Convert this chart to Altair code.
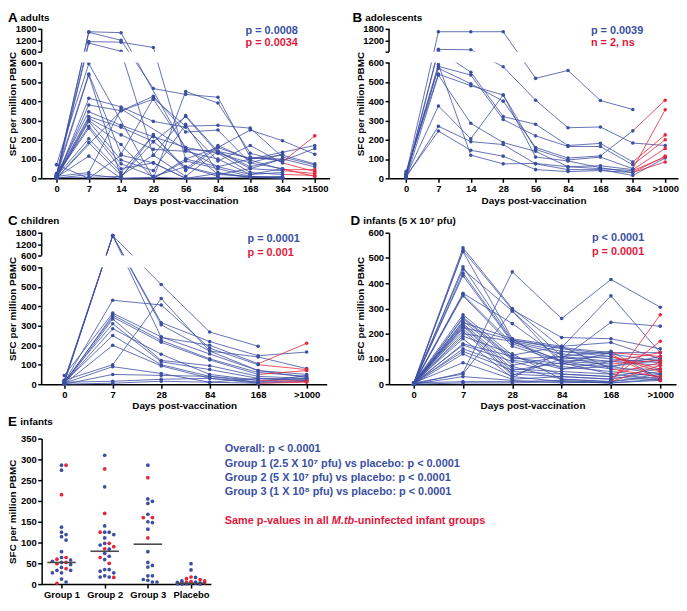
import json
import altair as alt
import numpy as np
import pandas as pd

BLUE = "#3D4FA2"
RED = "#E4253A"
TEXT_BLUE = "#3A50A2"
TEXT_RED = "#E1183D"
MEDIAN_GREY = "#4A4A4A"
FONT = "Liberation Sans"

# ---------------- Panel A: adults ----------------
A_TIMES = ["0", "7", "14", "28", "56", "84", "168", "364", ">1500"]
A_SUBJECTS = [
    [10, 1650, 1600, None, 150, 60, 100, 135, 170],
    [15, 1620, 1200, 465, 435, 420, 110, 90, 155],
    [20, 1130, 1100, 818, 100, 160, 250, 195, 125],
    [5, 1050, 620, 120, 325, 140, 60, 100, 60],
    [70, 594, None, 0, 450, 390, 130, 85, 220],
    [25, 541, 125, 415, 270, 275, 260, 110, 70],
    [10, 535, 5, 225, 50, 170, 95, 45, 45],
    [0, 415, 370, 295, 265, 90, 170, 80, 35],
    [5, 380, 350, 425, 240, 250, 80, 125, None],
    [20, 345, 275, 215, 160, 20, 50, 40, 25],
    [15, 320, 265, 190, 320, 130, 30, 20, 15],
    [10, 310, 225, 150, 140, 100, 20, 50, 10],
    [0, 300, 175, 0, 90, 50, 10, 5, None],
    [5, 295, 95, 40, 280, 30, 5, 10, None],
    [20, 270, 75, 10, 60, 10, None, None, None],
    [15, 260, 50, 80, 0, 0, None, None, None],
    [10, 205, 30, 225, 40, 160, 100, 120, 75],
    [0, 185, 15, 120, 10, 140, 105, 100, None],
    [5, 115, 0, 0, 100, 60, 20, 30, None],
    [10, 30, 360, None, 150, 140, 50, 100, None],
    [0, 20, 0, 5, 0, 5, 5, 5, None],
    [5, 5, 10, 190, 60, 20, 10, 0, None],
    [0, None, 350, 410, 160, 130, 80, 50, None],
    [70, 0, 120, 80, 0, 25, 5, 0, None],
]
A_LATE_RED = [False, False, False, False, True, False, True, True, False, True, True, True,
              False, False, False, False, False, False, False, False, False, False, False, False]
A_PVALS = ["p = 0.0008", "p = 0.0034"]

# ---------------- Panel B: adolescents ----------------
B_TIMES = ["0", "7", "14", "28", "56", "84", "168", "364", ">1000"]
B_SUBJECTS = [
    [20, 1650, 1650, 1650, 518, 559, 403, 357, None],
    [10, 720, 700, 578, 405, 262, 266, 183, 170],
    [5, 650, 550, 320, 280, 170, 181, 85, 225],
    [15, 580, 535, 305, 220, 165, 165, 70, 200],
    [25, 570, 490, 400, 160, 105, 116, 246, 405],
    [35, 540, 480, 432, 150, 95, 110, 50, 355],
    [0, 535, 285, 185, 140, 60, 65, 45, 155],
    [10, 375, 205, 432, 110, 90, 55, 30, 115],
    [5, 270, 190, 175, 75, 45, 45, 15, 105],
    [10, 245, 145, 115, 45, 35, 40, 30, 85],
    [20, 590, 120, 75, 77, 60, 50, 40, 110],
]
B_LATE_RED = [False, False, True, True, True, True, True, True, False, True, True]
B_PVALS = ["p = 0.0039", "n = 2, ns"]

# ---------------- Panel C: children ----------------
C_TIMES = ["0", "7", "28", "84", "168", ">1000"]
C_SUBJECTS = [
    [10, 1650, 512, 268, 195, None],
    [5, 1650, 316, 219, 146, 165],
    [15, 1650, 305, 170, 140, 80],
    [20, 1650, 240, 200, 105, 210],
    [10, 431, 407, 185, 100, 75],
    [45, 365, 243, 155, 70, 50],
    [5, 355, 225, 130, 60, 40],
    [10, 345, 215, 125, 50, 70],
    [0, 335, 122, 95, 40, 30],
    [15, 310, 115, 75, 30, 20],
    [5, 285, 154, 50, 20, 15],
    [10, 250, 100, 40, 10, 45],
    [0, 200, 94, 30, 5, 10],
    [20, 100, 440, 170, 70, 35],
    [5, 90, 55, 10, 30, 25],
    [0, 50, 45, 40, 20, 30],
    [10, 15, 25, 30, 10, 20],
    [0, 5, 15, 10, 5, 15],
]
C_LATE_RED = [False, False, False, True, True, False, False, True, False, False, True,
              False, True, False, False, False, False, False]
C_PVALS = ["p = 0.0001", "p = 0.001"]

# ---------------- Panel D: infants (5 X 10^7 pfu) ----------------
D_TIMES = ["0", "7", "28", "84", "168", ">1000"]
D_SUBJECTS = [
    [5, 540, 300, 145, 125, 125],
    [0, 530, 295, 185, 180, 140],
    [5, 525, 180, 150, 165, 100],
    [0, 465, 175, 140, 120, 15],
    [5, 455, 290, 110, 90, 100],
    [0, 440, 170, 130, 110, 50],
    [5, 430, 165, 120, 100, 85],
    [0, 360, 240, 100, 245, 230],
    [5, 355, 160, 95, 90, 75],
    [0, 350, 150, 90, 80, 95],
    [5, 275, 115, 150, 60, 60],
    [0, 265, 105, 80, 125, 110],
    [5, 260, 100, 110, 70, 40],
    [0, 250, 95, 70, 50, 30],
    [5, 245, 180, 60, 90, 125],
    [0, 240, 75, 110, 130, 20],
    [5, 235, 60, 50, 40, 85],
    [0, 230, 50, 40, 30, 15],
    [5, 225, 175, 145, 350, 125],
    [0, 220, 40, 30, 20, 170],
    [5, 210, 35, 100, 110, 60],
    [0, 200, 170, 90, 60, 30],
    [5, 190, 120, 20, 10, 75],
    [0, 160, 110, 60, 70, 110],
    [5, 155, 90, 40, 30, 60],
    [0, 140, 70, 20, 10, 40],
    [5, 130, 55, 85, 40, 20],
    [0, 120, 30, 10, 5, 275],
    [5, 85, 20, 30, 20, 50],
    [0, 45, 445, 260, 415, 305],
    [5, 40, 290, 80, 70, 95],
    [0, 30, 15, 5, 10, 30],
    [5, 10, 10, 15, 5, 15],
    [0, 5, 5, 10, 5, 20],
    [5, 180, 25, 130, 120, 90],
]
D_LATE_RED = [False, False, False, True, False, True, False, False, False, True, False, True,
              False, False, True, False, True, False, False, True, True, True, True, False,
              False, False, False, True, False, False, False, False, False, False, False]
D_PVALS = ["p < 0.0001", "p = 0.0001"]

# ---------------- Panel E: infants, all groups ----------------
E_GROUPS = ["Group 1", "Group 2", "Group 3", "Placebo"]
E_BLUE = [
    [286, 274, 137, 125, 119, 114, 106, 78, 64, 58, 55, 52, 47, 40, 33, 27, 27, 33, 12, 5],
    [310, 234, 140, 125, 125, 119, 111, 98, 94, 84, 74, 67, 59, 35, 35, 31, 27, 20, 17, 17],
    [286, 205, 199, 194, 168, 150, 148, 132, 78, 52, 45, 41, 20, 20, 11, 9, 5, 5],
    [49, 34, 16, 8, 5, 4, 3, 3, 2, 2, 1, 1, 0, 0],
]
E_RED = [
    [286, 215, 64, 60, 52, 49, 37, 2],
    [277, 170, 125, 98, 90, 85, 64, 50, 16],
    [256, 160, 160, 111],
    [17, 13, 11, 8, 6, 4, 3],
]
E_MEDIANS = [52, 79, 96, 2]
E_STATS = [
    "Overall: p < 0.0001",
    "Group 1 (2.5 X 10\u2077 pfu) vs placebo: p < 0.0001",
    "Group 2 (5 X 10\u2077 pfu) vs placebo: p < 0.0001",
    "Group 3 (1 X 10\u2078 pfu) vs placebo: p < 0.0001",
]
E_NOTE = ["Same p-values in all", "M.tb", "-uninfected infant groups"]


def series_frames(times, subjects, late_red):
    last = len(times) - 1
    blue_l, red_l, bpts, rpts = [], [], [], []
    for sid, (vals, red) in enumerate(zip(subjects, late_red)):
        present = [(i, v) for i, v in enumerate(vals) if v is not None]
        for i, v in present:
            row = dict(sid=sid, ti=i, t=times[i], v=v)
            if red and i == last:
                rpts.append(row)
            else:
                bpts.append(row)
                blue_l.append(row)
        if red and len(present) >= 2 and present[-1][0] == last:
            for i, v in present[-2:]:
                red_l.append(dict(sid=sid, ti=i, t=times[i], v=v))
    return (pd.DataFrame(blue_l), pd.DataFrame(red_l),
            pd.DataFrame(bpts), pd.DataFrame(rpts))


def text_layer(txt, x, y, size, color="black", style="normal"):
    return alt.Chart(pd.DataFrame({"txt": [txt]})).mark_text(
        align="left", baseline="middle", font=FONT, fontSize=size,
        fontWeight="bold", fontStyle=style, color=color,
    ).encode(x=alt.value(x), y=alt.value(y), text="txt:N")


def y_axis(values, expr, height, domain=True):
    return alt.Axis(title="SFC per million PBMC", values=values, labelExpr=expr,
                    labelOverlap=False, domain=domain, titleX=-29, titleY=height / 2,
                    titleBaseline="middle", titleAlign="center", titleAngle=270)


def line_panel(times, subjects, late_red, pvals, letter, name, width, height,
               pad, align, broken, p_xy, p_dy, letter_xy, name_dx,
               yrange=None, upper_label="600"):
    blue_l, red_l, bpts, rpts = series_frames(times, subjects, late_red)
    xs = alt.Scale(type="point", domain=times, padding=pad, align=align)
    if broken:
        ys = alt.Scale(domain=[0, 600, 601, 1800], range=yrange, zero=False, nice=False)
        vals = [0, 100, 200, 300, 400, 500, 600, 601, 1200, 1800]
        expr = "datum.value == 601 ? '%s' : format(datum.value, 'd')" % upper_label
    else:
        ys = alt.Scale(domain=[0, 600], zero=False, nice=False)
        vals = [0, 100, 200, 300, 400, 500, 600]
        expr = "format(datum.value, 'd')"
    X = alt.X("t:N", scale=xs,
              axis=alt.Axis(title="Days post-vaccination", labelAngle=0, labelOverlap=False))
    Y = alt.Y("v:Q", scale=ys, axis=y_axis(vals, expr, height, domain=not broken))
    layers = [
        alt.Chart(blue_l).mark_line(color=BLUE, strokeWidth=0.8).encode(
            x=X, y=Y, detail="sid:N", order="ti:Q"),
        alt.Chart(red_l).mark_line(color=RED, strokeWidth=0.8).encode(
            x=X, y=Y, detail="sid:N", order="ti:Q"),
        alt.Chart(bpts).mark_circle(color=BLUE, size=13, opacity=1).encode(x=X, y=Y),
        alt.Chart(rpts).mark_circle(color=RED, size=13, opacity=1).encode(x=X, y=Y),
    ]
    if broken:
        gap = pd.DataFrame({"v": [600], "v2": [601]})
        layers.append(alt.Chart(gap).mark_rect(color="white").encode(
            y=Y, y2="v2:Q", x=alt.value(0), x2=alt.value(width)))
        segs = pd.DataFrame({"v": [0, 601], "v2": [600, 1800]})
        layers.append(alt.Chart(segs).mark_rule(color="black", strokeWidth=1.5).encode(
            x=alt.value(0), y=Y, y2="v2:Q"))
    layers.append(text_layer(pvals[0], p_xy[0], p_xy[1], 11, TEXT_BLUE))
    layers.append(text_layer(pvals[1], p_xy[0], p_xy[1] + p_dy, 11, TEXT_RED))
    layers.append(text_layer(letter, letter_xy[0], letter_xy[1], 13.5))
    layers.append(text_layer(name, letter_xy[0] + name_dx, letter_xy[1], 10))
    return alt.layer(*layers).properties(width=width, height=height)


A = line_panel(A_TIMES, A_SUBJECTS, A_LATE_RED, A_PVALS, "A", "adults", 291, 151,
               0.46, 0.5, True, (206, 2), 12, (-34, -11), 12.5, yrange=[151, 34, 23, 0])
B = line_panel(B_TIMES, B_SUBJECTS, B_LATE_RED, B_PVALS, "B", "adolescents", 292, 151,
               0.46, 0.57, True, (204, 2), 12, (-37, -11), 13, yrange=[151, 34, 23, 0],
               upper_label="")
C = line_panel(C_TIMES, C_SUBJECTS, C_LATE_RED, C_PVALS, "C", "children", 288, 153,
               0.44, 0.53, True, (208, 6), 14, (-34, -12), 13, yrange=[153, 35, 23, 0])
D = line_panel(D_TIMES, D_SUBJECTS, D_LATE_RED, D_PVALS, "D", "infants (5 X 10\u2077 pfu)",
               290, 153, 0.41, 0.61, False, (205, 5), 14, (-39, -12), 13)

# ---------------- Panel E build ----------------
E_W, E_H = 171, 147
E_DOM = [-0.46, 3.46]
unit_px = E_W / (E_DOM[1] - E_DOM[0])
px_per_val = E_H / 350.0


def swarm_offsets(values, step=4.6, diam=4.4, max_off=14.0):
    order = sorted(range(len(values)), key=lambda i: -values[i])
    cands = [0.0]
    j = 1
    while j * step <= max_off + 1e-9:
        cands += [j * step, -j * step]
        j += 1
    placed, offs = [], [0.0] * len(values)
    for i in order:
        y = values[i] * px_per_val
        best, bestd = cands[0], -1.0
        for c in cands:
            d = min([np.hypot(c - x, y - yy) for yy, x in placed] or [1e9])
            if d >= diam:
                best = c
                break
            if d > bestd:
                bestd, best = d, c
        placed.append((y, best))
        offs[i] = best
    return offs


rows = []
for gi, (bl, rd) in enumerate(zip(E_BLUE, E_RED)):
    vals = list(bl) + list(rd)
    cohort = ["b"] * len(bl) + ["r"] * len(rd)
    offs = swarm_offsets(vals)
    for v, c, o in zip(vals, cohort, offs):
        rows.append(dict(gx=gi + o / unit_px, v=v, c=c))
e_df = pd.DataFrame(rows)
med_df = pd.DataFrame({"gx": [i - 0.33 for i in range(4)],
                       "gx2": [i + 0.33 for i in range(4)],
                       "v": E_MEDIANS})

e_expr = "%s[datum.value]" % json.dumps(E_GROUPS)
EX = alt.X("gx:Q", scale=alt.Scale(domain=E_DOM, nice=False, zero=False),
           axis=alt.Axis(title=None, values=[0, 1, 2, 3], labelExpr=e_expr,
                         labelOverlap=False, labelFlush=False, labelFontSize=9.5))
EY = alt.Y("v:Q", scale=alt.Scale(domain=[0, 350], nice=False, zero=False),
           axis=y_axis(list(range(0, 351, 50)), "format(datum.value, 'd')", E_H))

e_layers = [
    alt.Chart(e_df[e_df.c == "b"]).mark_circle(color=BLUE, size=14, opacity=1).encode(x=EX, y=EY),
    alt.Chart(e_df[e_df.c == "r"]).mark_circle(color=RED, size=14, opacity=1).encode(x=EX, y=EY),
    alt.Chart(med_df).mark_rule(color=MEDIAN_GREY, strokeWidth=1.6).encode(x=EX, x2="gx2:Q", y=EY),
    text_layer("E", -34, -17, 13.5),
    text_layer("infants", -21.5, -17, 10),
]
for k, s in enumerate(E_STATS):
    e_layers.append(text_layer(s, 185, 11 + 14.4 * k, 11, TEXT_BLUE))
e_layers.append(text_layer(E_NOTE[0], 185, 83, 11, TEXT_RED))
e_layers.append(text_layer(E_NOTE[1], 185 + 108.2, 83, 11, TEXT_RED, style="italic"))
e_layers.append(text_layer(E_NOTE[2], 185 + 130.8, 83, 11, TEXT_RED))
E = alt.layer(*e_layers).properties(width=E_W, height=E_H)

chart = alt.concat(
    A, B, C, D, E, columns=2, spacing={"row": 55, "column": 60}, bounds="flush"
).properties(padding=0).configure_axis(
    labelFont=FONT, labelFontWeight="bold", labelFontSize=9.5, labelColor="black",
    titleFont=FONT, titleFontWeight="bold", titleFontSize=10, titleColor="black",
    tickColor="black", tickWidth=1.5, tickSize=4, domainColor="black", domainWidth=1.5,
    grid=False, labelPadding=1.5, titlePadding=2,
).configure_view(stroke=None)

chart.save("out.html", embed_options={"renderer": "svg", "actions": False})
